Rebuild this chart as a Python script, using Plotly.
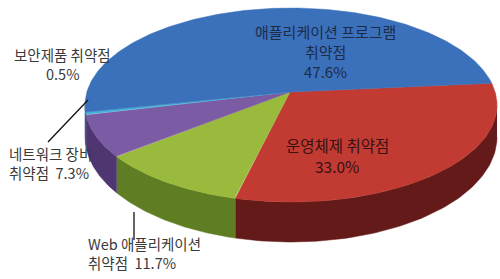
import numpy as np
import plotly.graph_objects as go

# Data (clockwise from the right edge)
categories = ["운영체제 취약점", "Web 애플리케이션 취약점", "네트워크 장비 취약점",
              "보안제품 취약점", "애플리케이션 프로그램 취약점"]
values = [33.0, 11.7, 7.3, 0.5, 47.6]
top_colors = ["#c13b33", "#9aba3e", "#7c5ba5", "#45b0d8", "#3b70bb"]
side_colors = ["#641a18", "#5f7e24", "#4f3670", "#2a7090", "#24477a"]

# geometry (pixel space)
cx, cy, rx, ry = 291, 105, 206, 97
apex = (290, 92)
depth = 40
start = np.deg2rad(-13)

fig = go.Figure()
fr = np.array(values) / sum(values)
bounds = start + 2 * np.pi * np.concatenate([[0], np.cumsum(fr)])

def ell(t, dy=0.0):
    return cx + rx * np.cos(t), cy + ry * np.sin(t) + dy

# sides (front half)
for i in range(len(values)):
    a, b = bounds[i], bounds[i + 1]
    for k in range(-1, 2):
        lo = max(a, 2 * np.pi * k)
        hi = min(b, 2 * np.pi * k + np.pi)
        if hi > lo:
            t = np.linspace(lo, hi, 80)
            x1, y1 = ell(t)
            x2, y2 = ell(t[::-1], depth)
            y2 = y2 - (1 - np.sin(t[::-1])) * 8
            fig.add_trace(go.Scatter(x=np.concatenate([x1, x2]), y=np.concatenate([y1, y2]),
                                     fill="toself", mode="lines", fillcolor=side_colors[i],
                                     line=dict(color=side_colors[i], width=0.5),
                                     hoverinfo="skip", showlegend=False))

# top faces
for i in range(len(values)):
    t = np.linspace(bounds[i], bounds[i + 1], 200)
    x, y = ell(t)
    xs = np.concatenate([[apex[0]], x, [apex[0]]])
    ys = np.concatenate([[apex[1]], y, [apex[1]]])
    fig.add_trace(go.Scatter(x=xs, y=ys, fill="toself", mode="lines",
                             fillcolor=top_colors[i],
                             line=dict(color=top_colors[i], width=0.5),
                             hoverinfo="skip", showlegend=False))

font = "Noto Sans CJK KR"
ann = [
    (325, [31, 51, 71], ["애플리케이션 프로그램", "취약점", "47.6%"], "#1c2c48", "center", 15),
    (337, [145, 166], ["운영체제 취약점", "33.0%"], "#3a1010", "center", 15.5),
    (62, [54, 73], ["보안제품 취약점", "0.5%"], "#3a3a3a", "center", 14.5),
    (7, [153, 172], ["네트워크 장비", "취약점  7.3%"], "#3a3a3a", "left", 14.5),
    (86, [243, 262], ["Web 애플리케이션", "취약점  11.7%"], "#3a3a3a", "left", 14.5),
]
for x, ys, lines, color, anchor, size in ann:
    for y, txt in zip(ys, lines):
        fig.add_annotation(x=x, y=y, xref="x", yref="y", text=txt, showarrow=False,
                           xanchor=anchor, yanchor="middle",
                           font=dict(family=font, size=size, color=color))

fig.add_shape(type="line", x0=48, y0=142, x1=88, y1=100, xref="x", yref="y",
              line=dict(color="#111111", width=1.3))
fig.add_shape(type="line", x0=134, y0=212, x1=134, y1=240, xref="x", yref="y",
              line=dict(color="#111111", width=1.3))

fig.update_layout(width=500, height=279, margin=dict(l=0, r=0, t=0, b=0),
                  paper_bgcolor="white", plot_bgcolor="white", hovermode=False,
                  xaxis=dict(range=[0, 500], visible=False, fixedrange=True),
                  yaxis=dict(range=[279, 0], visible=False, fixedrange=True))
fig.write_html("out.html")
